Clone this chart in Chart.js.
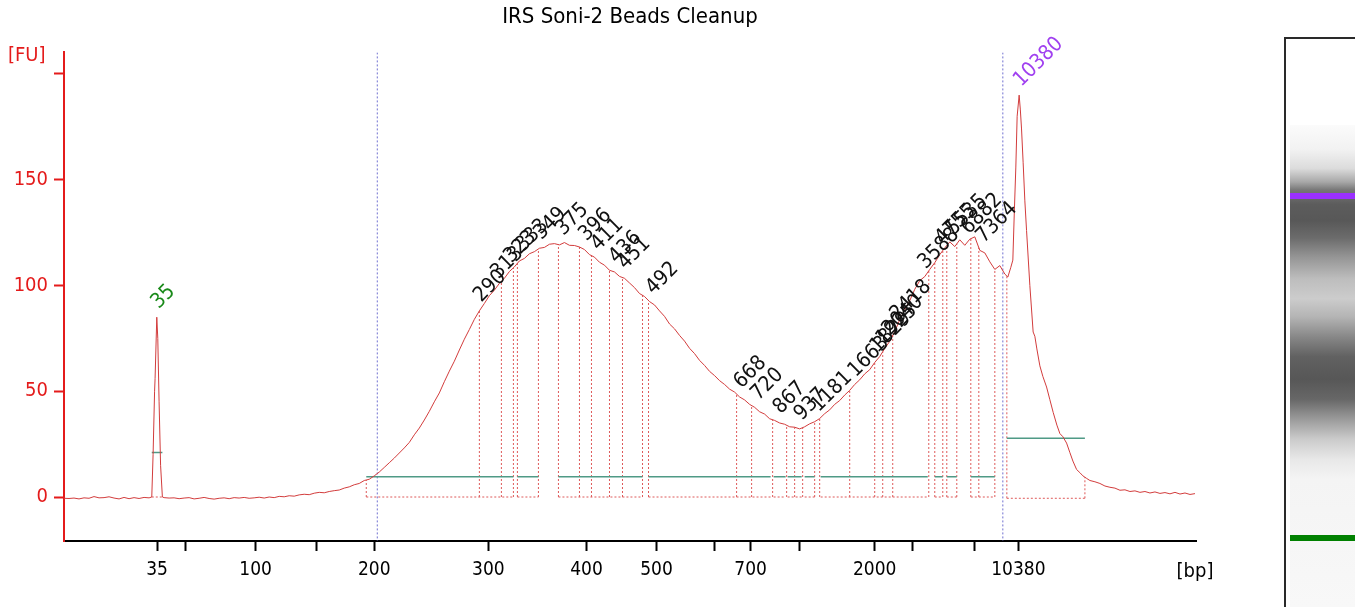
<!DOCTYPE html>
<html>
<head>
<meta charset="utf-8">
<script src="https://cdn.jsdelivr.net/npm/chart.js@4.4.1/dist/chart.umd.min.js"></script>
<style>
  html, body { margin: 0; padding: 0; background: #fff; }
  #wrap { position: relative; width: 1355px; height: 607px; overflow: hidden; }
  #chartBox { position: absolute; left: 0; top: 0; width: 1255px; height: 607px; }
  #gelFrame { position: absolute; left: 1284px; top: 37px; width: 90px; height: 600px;
    border-left: 2px solid #2a2a2a; border-top: 2px solid #2a2a2a; }
  #gel { position: absolute; left: 1290px; top: 125px; width: 70px; height: 482px;
    background: linear-gradient(to bottom,
      #fbfbfb 0%, #f2f2f2 5%, #dcdcdc 9%, #a8a8a8 11.8%, #777 13.5%, #5c5c5c 16.5%,
      #585858 19.8%, #6c6c6c 23.5%, #949494 27.3%, #bdbdbd 31.9%, #cccccc 36%,
      #b4b4b4 39.8%, #878787 44%, #616161 48.1%, #575757 52.7%, #676767 56.9%,
      #9a9a9a 61%, #cbcbcb 65.2%, #e8e8e8 69.4%, #f4f4f4 73.5%, #f8f8f8 100%); }
  .band { position: absolute; left: 1290px; width: 70px; height: 6px; }
</style>
</head>
<body>
<div id="wrap">
  <div id="chartBox"><canvas id="chart" width="1255" height="607"></canvas></div>
  <div id="gelFrame"></div>
  <div id="gel"></div>
  <div class="band" style="top:193px;background:#9b30ff;"></div>
  <div class="band" style="top:535px;background:#008000;"></div>
</div>
<script>
var chartTitle = "IRS Soni-2 Beads Cleanup";
var FONT = '"DejaVu Sans Condensed", "DejaVu Sans", sans-serif';

// migration time (s) and fluorescence (FU)
var time = [
  20.0, 20.5, 21.0, 21.5, 22.0, 22.5, 23.0, 23.5, 24.0, 24.5, 25.0, 25.5, 26.0, 26.5, 27.0, 27.5, 28.0, 28.5,
  28.77, 28.9, 29.05, 29.1, 29.27, 29.37, 29.5, 29.65, 29.83,
  30.0, 30.5, 31.0, 31.5, 32.0, 32.5, 33.0, 33.5, 34.0, 34.5, 35.0, 35.5, 36.0, 36.5, 37.0, 37.5, 38.0, 38.5,
  39.0, 39.5, 40.0, 40.5, 41.0, 41.5, 42.0, 42.5, 43.0, 43.5, 44.0, 44.5, 45.0, 45.5, 46.0, 46.5, 47.0, 47.5,
  48.0, 48.5, 49.0, 49.5, 50.0, 50.5, 51.0, 51.5, 52.0, 52.5, 53.0, 53.5, 54.0, 54.5, 55.0, 55.5, 56.0, 56.5,
  57.0, 57.5, 58.0, 58.5, 59.0, 59.5, 60.0, 60.5, 61.0, 61.5, 62.0, 62.5, 63.0, 63.5, 64.0, 64.5, 65.0, 65.5,
  66.0, 66.5, 67.0, 67.5, 68.0, 68.5, 69.0, 69.5, 70.0, 70.5, 71.0, 71.5, 72.0, 72.5, 73.0, 73.5, 74.0, 74.5,
  75.0, 75.5, 76.0, 76.5, 77.0, 77.5, 78.0, 78.5, 79.0, 79.5, 80.0, 80.5, 81.0, 81.5, 82.0, 82.5, 83.0, 83.5,
  84.0, 84.5, 85.0, 85.5, 86.0, 86.5, 87.0, 87.5, 88.0, 88.5, 89.0, 89.5, 90.0, 90.5, 91.0, 91.5, 92.0, 92.5,
  93.0, 93.5, 94.0, 94.5, 95.0, 95.5, 96.0, 96.5, 97.0, 97.5, 98.0, 98.5, 99.0, 99.5, 100.0, 100.5, 101.0, 101.5,
  102.0, 102.5, 103.0, 103.5, 104.0, 104.5, 105.0, 105.5, 106.0, 106.5, 107.0, 107.5, 108.0, 108.5, 109.0, 109.5,
  110.0, 110.5, 111.0, 111.5, 112.0, 112.5, 113.0, 113.5, 114.0,
  114.3, 114.6, 114.8, 114.95, 115.1, 115.23, 115.43, 115.55, 115.67, 115.83, 116.0, 116.17, 116.5, 116.83,
  117.0, 117.2, 117.5, 117.8, 118.17, 118.5, 118.83, 119.2, 119.5, 119.8, 120.17, 120.5, 120.8, 121.17, 121.5,
  121.8, 122.17, 122.5, 123.0, 123.5, 124.0, 124.5, 125.0, 125.5, 126.0, 126.5, 127.0, 127.5, 128.0, 128.5,
  129.0, 129.5, 130.0, 130.5, 131.0, 131.5, 132.0, 132.5, 133.0
];
var signal = [
  -0.6, -0.7, -0.5, -0.9, -0.4, -0.6, 0.2, -0.4, -0.3, 0.1, -0.5, -0.9, -0.2, -0.8, -0.3, -0.7, -0.2, -0.4,
  0, 20, 50, 56, 85, 75, 45, 15, 0,
  -0.3, -0.5, -0.4, -0.8, -0.5, -0.3, -0.9, -0.6, -0.2, -0.7, -1.0, -0.6, -0.4, -0.8, -0.3, -0.5, -0.2, -0.6,
  -0.4, -0.1, -0.5, 0.0, -0.3, 0.3, 0.1, 0.6, 0.4, 1.0, 1.3, 1.1, 1.8, 2.2, 2.0, 2.6, 3.0, 3.3,
  4.2, 4.8, 5.8, 6.4, 7.8, 8.4, 10.0, 11.8, 14.0, 16.2, 18.4, 20.8, 23.2, 25.8, 29.4, 32.6, 36.4, 40.5,
  45.0, 49.2, 54.5, 59.5, 64.2, 69.5, 74.6, 79.2, 84.0, 88.0, 91.5, 95.2, 97.8, 101.0, 103.4, 106.6, 108.8, 111.6,
  112.8, 115.0, 116.0, 117.6, 118.0, 119.5, 119.8, 119.2, 120.3, 119.0, 118.9, 118.2, 117.0, 114.6, 113.4, 111.0, 109.6, 107.2,
  106.4, 104.3, 103.4, 101.2, 99.0, 96.2, 94.8, 92.4, 90.8, 88.0, 85.4, 81.8, 79.5, 76.4, 73.7, 70.3, 67.8, 64.6,
  62.2, 59.4, 57.4, 55.0, 53.2, 51.0, 49.6, 47.3, 45.9, 43.8, 42.4, 40.3, 39.2, 37.0, 36.2, 35.0, 34.4, 33.2,
  33.0, 32.2, 33.2, 34.6, 35.6, 37.1, 39.4, 41.2, 43.8, 45.6, 48.2, 50.4, 53.2, 55.4, 58.2, 60.2, 63.6, 66.4,
  70.2, 73.6, 78.2, 83.8, 88.6, 92.8, 98.2, 102.3, 104.2, 107.6, 110.8, 114.6, 117.8, 120.6, 118.4, 121.6,
  119.0, 121.9, 123.0, 116.6, 115.4, 111.2, 107.6, 109.4, 105.4,
  104.0, 108.6, 112.0, 135.0, 156.0, 180.0, 190.0, 183.0, 174.0, 158.0, 140.0, 126.0, 100.0, 78.0,
  76.0, 70.0, 62.0, 57.0, 52.0, 46.0, 40.0, 34.0, 30.0, 28.5, 25.5, 21.0, 17.0, 13.0, 11.5,
  10.0, 8.8, 7.8, 7.2, 6.4, 5.2, 4.6, 4.2, 3.2, 3.4, 2.6, 2.9, 2.2, 2.6, 1.9,
  2.4, 1.7, 2.1, 1.5, 2.2, 1.4, 1.9, 1.2, 1.6
];

// size ladder ticks on the time axis
var xTickTimes = [29.3, 32.1, 39.15, 45.2, 51.0, 62.4, 72.2, 79.2, 85.0, 88.6, 93.5, 101.0, 104.8, 111.0, 115.35];
var xTickLabels = ["35", "", "100", "", "200", "300", "400", "500", "", "700", "", "2000", "", "", "10380"];
var yTickValues = [0, 50, 100, 150, 200];
var yTickLabels = ["0", "50", "100", "150", ""];

// peak boundaries (dotted drops)
var boundaryTimes = [50.2, 61.5, 63.7, 64.9, 65.3, 67.4, 69.4, 71.5, 72.7, 74.5, 75.8, 77.8, 78.4, 87.2, 88.7,
  90.8, 92.2, 93.0, 93.8, 95.0, 95.5, 98.5, 101.0, 101.8, 102.8, 106.4, 107.0, 107.8, 108.2, 109.2, 110.6,
  111.4, 113.0, 114.2, 122.0];

// integration regions: start, end, baseline level, floor level
var regionStart = [28.77, 50.2, 65.3, 69.4, 78.4, 90.9, 92.3, 94.0, 95.6, 107.0, 108.2, 110.6, 114.2];
var regionEnd   = [29.83, 64.9, 67.4, 77.8, 90.6, 92.1, 93.7, 95.0, 106.3, 107.8, 109.2, 113.0, 122.0];
var regionBase  = [21, 9.6, 9.6, 9.6, 9.6, 9.6, 9.6, 9.6, 9.6, 9.6, 9.6, 9.6, 27.8];
var regionFloor = [0, 0, 0, 0, 0, 0, 0, 0, 0, 0, 0, 0, -0.6];

// lower / upper marker lines
var markerTimes = [51.3, 113.8];

// peak size labels
var peakTimes = [61.5, 63.2, 64.5, 65.7, 67.5, 69.7, 72.0, 73.2, 75.0, 75.9, 78.7, 87.5, 89.2, 91.4, 93.5,
  95.2, 98.9, 101.1, 101.7, 102.3, 103.1, 105.9, 107.6, 108.7, 110.2, 111.7];
var peakSizes = ["290", "313", "323", "333", "349", "375", "396", "411", "436", "451", "492", "668", "720",
  "867", "937", "1181", "1663", "1829", "1925", "2040", "2418", "3588", "4755", "5535", "6882", "7364"];
var markerPeakTimes = [29.27, 115.43];
var markerPeakSizes = ["35", "10380"];

var yMin = -20.8, yMax = 210.2;

function signalAt(t) {
  for (var i = 1; i < time.length; i++) {
    if (time[i] >= t) {
      var f = (t - time[i - 1]) / (time[i] - time[i - 1]);
      return signal[i - 1] + f * (signal[i] - signal[i - 1]);
    }
  }
  return signal[signal.length - 1];
}

function seg(points, color, width, dash, order) {
  return { data: points, borderColor: color, borderWidth: width, borderDash: dash,
    pointRadius: 0, fill: false, tension: 0, order: order };
}

var datasets = [];
datasets.push(seg(time.map(function (t, i) { return { x: t, y: signal[i] }; }), "#d23c3c", 1, [], 0));

regionStart.forEach(function (s, i) {
  var e = regionEnd[i];
  datasets.push(seg([{ x: s, y: regionBase[i] }, { x: e, y: regionBase[i] }], "#4f9a86", 1.5, [], 1));
  datasets.push(seg([{ x: s, y: regionFloor[i] }, { x: e, y: regionFloor[i] }], "#de5a5a", 1, [2, 2], 2));
});
boundaryTimes.forEach(function (t) {
  var fl = t >= 114 ? -0.6 : 0;
  datasets.push(seg([{ x: t, y: fl }, { x: t, y: signalAt(t) }], "#de5a5a", 1, [2, 2], 2));
});
markerTimes.forEach(function (t) {
  datasets.push(seg([{ x: t, y: yMax }, { x: t, y: yMin }], "#7070d0", 1, [2, 2], 3));
});

var textPlugin = {
  id: "texts",
  afterDatasetsDraw: function (chart) {
    var ctx = chart.ctx, xs = chart.scales.x, ys = chart.scales.y, ca = chart.chartArea;
    ctx.save();
    ctx.font = "21px " + FONT;
    ctx.textAlign = "left";
    ctx.textBaseline = "alphabetic";
    function rot(t, txt, color) {
      var px = xs.getPixelForValue(t), py = ys.getPixelForValue(signalAt(t));
      ctx.save();
      ctx.translate(px + 2, py - 8);
      ctx.rotate(-Math.PI / 4);
      ctx.fillStyle = color;
      ctx.fillText(txt, 0, 0);
      ctx.restore();
    }
    peakTimes.forEach(function (t, i) { rot(t, peakSizes[i], "#111"); });
    rot(markerPeakTimes[0], markerPeakSizes[0], "#1a8a1a");
    rot(markerPeakTimes[1], markerPeakSizes[1], "#a040f0");
    ctx.font = "20px " + FONT;
    ctx.fillStyle = "#e41b1b";
    ctx.textBaseline = "middle";
    ctx.fillText("[FU]", ca.left - 56, ca.top + 3);
    ctx.fillStyle = "#000";
    ctx.textAlign = "center";
    ctx.fillText("[bp]", ca.right - 1, ca.bottom + 31);
    ctx.restore();
  }
};

var config = {
  type: "line",
  data: { datasets: datasets },
  options: {
    responsive: false,
    animation: false,
    layout: { padding: { left: 0, right: 59, top: 0, bottom: 0 } },
    plugins: {
      legend: { display: false },
      tooltip: { enabled: false },
      title: {
        display: true,
        fullSize: false,
        text: chartTitle,
        color: "#000",
        font: { family: FONT, size: 22, weight: "normal" },
        padding: { top: 4, bottom: 22 }
      }
    },
    scales: {
      x: {
        type: "linear",
        min: 20,
        max: 133.1,
        afterBuildTicks: function (s) { s.ticks = xTickTimes.map(function (v) { return { value: v }; }); },
        afterFit: function (s) { s.height = 66; },
        ticks: {
          autoSkip: false, maxRotation: 0, padding: 8, color: "#000",
          font: { family: FONT, size: 19 },
          callback: function (v, i) { return xTickLabels[i]; }
        },
        grid: { drawOnChartArea: false, tickLength: 10, tickWidth: 2, color: "#000" },
        border: { color: "#000", width: 2 }
      },
      y: {
        type: "linear",
        min: yMin,
        max: yMax,
        afterBuildTicks: function (s) { s.ticks = yTickValues.map(function (v) { return { value: v }; }); },
        afterFit: function (s) { s.width = 64; },
        ticks: {
          padding: 6, color: "#e41b1b",
          font: { family: FONT, size: 20 },
          callback: function (v, i) { return yTickLabels[i]; }
        },
        grid: { drawOnChartArea: false, tickLength: 10, tickWidth: 2, color: "#e41b1b" },
        border: { color: "#e41b1b", width: 2 }
      }
    }
  },
  plugins: [textPlugin]
};

window.onload = function () {
  var ctx = document.getElementById("chart").getContext("2d");
  window.myChart = new Chart(ctx, config);
};
</script>
</body>
</html>
